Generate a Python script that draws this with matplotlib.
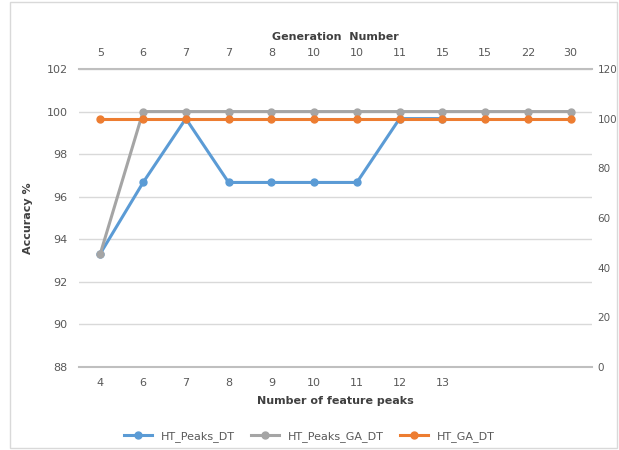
import numpy as np
import matplotlib
matplotlib.use("Agg")
import matplotlib.pyplot as plt
from matplotlib.patches import Rectangle

# feature peak counts (bottom axis) and generation numbers (top axis)
peaks = ["4", "6", "7", "8", "9", "10", "11", "12", "13", "", "", ""]
generations = ["5", "6", "7", "7", "8", "10", "10", "11", "15", "15", "22", "30"]

ht_peaks_dt = [93.33, 96.67, 99.67, 96.67, 96.67, 96.67, 96.67, 99.67, 99.67]
ht_peaks_ga_dt = [93.33, 100, 100, 100, 100, 100, 100, 100, 100, 100, 100, 100]
ht_ga_dt = [100, 100, 100, 100, 100, 100, 100, 100, 100, 100, 100, 100]

BLUE = "#5B9BD5"
GREY = "#A5A5A5"
ORANGE = "#ED7D31"
TXT = "#595959"

plt.rcParams["font.family"] = ["DejaVu Sans"]
fig = plt.figure(figsize=(6.19, 4.5), dpi=100)
fig.patches.append(Rectangle((0.016, 0.005), 0.98, 0.99, transform=fig.transFigure,
                             fill=False, edgecolor="#d9d9d9", lw=1))

ax = fig.add_axes([0.1276, 0.1844, 0.8288, 0.6623])
x = np.arange(len(peaks))

ax.plot(x[:len(ht_peaks_dt)], ht_peaks_dt, color=BLUE, lw=2.2, marker="o", ms=5, label="HT_Peaks_DT", zorder=3)
ax.plot(x, ht_peaks_ga_dt, color=GREY, lw=2.2, marker="o", ms=5, label="HT_Peaks_GA_DT", zorder=3)
ax.set_ylim(88, 102)
ax.set_yticks(np.arange(88, 103, 2))
ax.set_xlim(-0.5, len(peaks) - 0.5)
ax.set_xticks(x)
ax.set_xticklabels(peaks)
ax.grid(axis="y", color="#d9d9d9", lw=1)
ax.set_axisbelow(True)
for s in ["left", "right"]:
    ax.spines[s].set_visible(False)
for s in ["top", "bottom"]:
    ax.spines[s].set_color("#bfbfbf")
    ax.spines[s].set_linewidth(1.5)
ax.tick_params(length=0, labelsize=8, colors=TXT, pad=8)
ax.set_xlabel("Number of feature peaks", fontsize=8, color="#404040", fontweight="bold", labelpad=6)
ax.set_ylabel("Accuracy %", fontsize=8, color="#404040", fontweight="bold", labelpad=10)

# right axis for the GA series
ax2 = ax.twinx()
ax2.plot(x, ht_ga_dt, color=ORANGE, lw=2.2, marker="o", ms=5, label="HT_GA_DT", zorder=4)
ax2.set_ylim(0, 120)
ax2.set_yticks(np.arange(0, 121, 20))
for s in ax2.spines.values():
    s.set_visible(False)
ax2.tick_params(length=0, labelsize=7.5, colors=TXT, pad=4)

# top axis: generation numbers
top = ax.secondary_xaxis("top")
top.set_xticks(x)
top.set_xticklabels(generations)
top.tick_params(length=0, labelsize=8, colors=TXT, pad=8)
top.spines["top"].set_visible(False)
top.set_xlabel("Generation  Number", fontsize=8, color="#404040", fontweight="bold", labelpad=6)

h1, l1 = ax.get_legend_handles_labels()
h2, l2 = ax2.get_legend_handles_labels()
fig.legend(h1 + h2, l1 + l2, loc="center", bbox_to_anchor=(0.5, 0.03), ncol=3,
           frameon=False, fontsize=8, labelcolor=TXT, handlelength=2.5, columnspacing=1.5)

fig.savefig("out.png", dpi=100)
